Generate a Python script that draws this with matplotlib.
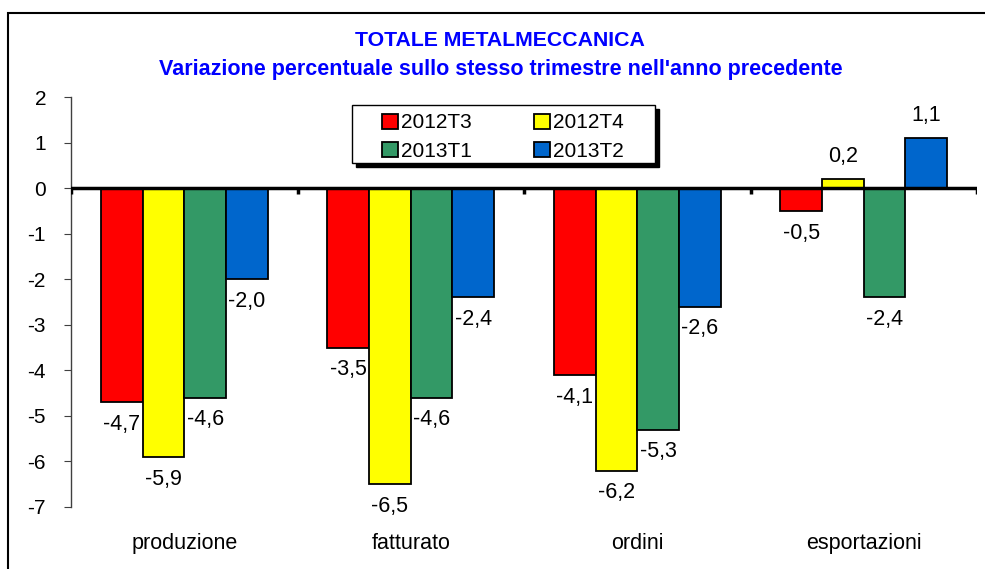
import numpy as np
import matplotlib
matplotlib.use('Agg')
import matplotlib.pyplot as plt
import matplotlib.transforms as mtransforms
from matplotlib.patches import Rectangle

plt.rcParams['font.family'] = ['Liberation Sans', 'DejaVu Sans']

# Dati
categorie = ['produzione', 'fatturato', 'ordini', 'esportazioni']
serie = ['2012T3', '2012T4', '2013T1', '2013T2']
v_2012T3 = [-4.7, -3.5, -4.1, -0.5]
v_2012T4 = [-5.9, -6.5, -6.2, 0.2]
v_2013T1 = [-4.6, -4.6, -5.3, -2.4]
v_2013T2 = [-2.0, -2.4, -2.6, 1.1]
colori = ['#FF0000', '#FFFF00', '#339966', '#0066CC']
y_ticks = [2, 1, 0, -1, -2, -3, -4, -5, -6, -7]

valori = [v_2012T3, v_2012T4, v_2013T1, v_2013T2]

fig = plt.figure(figsize=(9.85, 5.69), dpi=100)
ax = fig.add_axes([71 / 985, 1 - 507 / 569, 906 / 985, 410 / 569])

x = np.arange(len(categorie))
w = 0.184
handles = []
for i, (nome, vals, col) in enumerate(zip(serie, valori, colori)):
    pos = x + (i - 1.5) * w
    bars = ax.bar(pos, vals, width=w, color=col, edgecolor='black', linewidth=1.3, label=nome, zorder=2)
    handles.append(bars)
    for b, v in zip(bars, vals):
        testo = f"{v:.1f}".replace('.', ',')
        off = 16 if v >= 0 else -16
        ax.annotate(testo, (b.get_x() + b.get_width() / 2, v), xytext=(0, off),
                    textcoords='offset points', ha='center', va='center', fontsize=15.5)

# Asse dello zero
ax.axhline(0, color='black', linewidth=2.5, zorder=3)
ax.vlines(np.arange(-0.5, len(categorie)), -0.12, 0, color='black', linewidth=2.5, zorder=3)

ax.set_xlim(-0.5, len(categorie) - 0.5)
ax.set_ylim(-7, 2)
ax.set_yticks(y_ticks)
ax.set_yticklabels([str(t) for t in y_ticks], fontsize=15)
ax.tick_params(axis='y', direction='out', length=5, color='#404040', pad=13)
ax.set_xticks(x)
ax.set_xticklabels(categorie, fontsize=15.5)
ax.tick_params(axis='x', length=0, pad=19)

for s in ['top', 'right', 'bottom']:
    ax.spines[s].set_visible(False)
ax.spines['left'].set_color('#404040')
ax.spines['left'].set_linewidth(1)

# riquadro legenda con ombra
bx, by, bw, bh = 0.3102, 0.839, 0.3344, 0.1415
ombra = mtransforms.offset_copy(ax.transAxes, fig=fig, x=4, y=-4, units='dots')
ax.add_patch(Rectangle((bx, by), bw, bh, transform=ombra, facecolor='black',
                       edgecolor='black', zorder=4, clip_on=False))
ax.add_patch(Rectangle((bx, by), bw, bh, transform=ax.transAxes, facecolor='white',
                       edgecolor='black', linewidth=1, zorder=4.5, clip_on=False))

# ordine legenda: riga 1 = 2012T3, 2012T4; riga 2 = 2013T1, 2013T2
ordine = [0, 2, 1, 3]
leg = ax.legend([handles[k] for k in ordine], [serie[k] for k in ordine],
                ncol=2, loc='upper left', bbox_to_anchor=(0.3433, 0.96), borderaxespad=0,
                fontsize=15, frameon=False,
                handlelength=0.75, handleheight=0.75, handletextpad=0.15,
                columnspacing=3.0, labelspacing=0.45, borderpad=0)
leg.set_zorder(5)

fig.text(0.508, 1 - 41 / 569, 'TOTALE METALMECCANICA', ha='center', va='center',
         fontsize=15.3, fontweight='bold', color='#0000FF')
fig.text(0.508, 1 - 70 / 569, "Variazione percentuale sullo stesso trimestre nell'anno precedente",
         ha='center', va='center', fontsize=15.5, fontweight='bold', color='#0000FF')

# Cornice esterna
fig.patches.append(Rectangle((8 / 985, -0.1), 1.2, 1 - 13 / 569 + 0.1, transform=fig.transFigure,
                             fill=False, edgecolor='black', linewidth=1.5))

fig.savefig('out.png', dpi=100)
